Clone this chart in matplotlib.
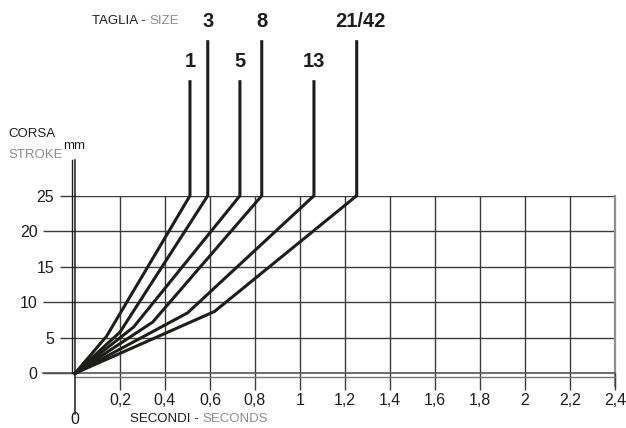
import matplotlib
matplotlib.use("Agg")
import matplotlib.pyplot as plt
from matplotlib.ticker import FixedLocator

# ---------------- data ----------------
sizes = ['1', '3', '5', '8', '13', '21/42']
t_kink = [0.14, 0.20, 0.26, 0.345, 0.50, 0.62]     # s
s_kink = [5.2, 5.8, 6.5, 7.2, 8.5, 8.7]            # mm
t_end = [0.511, 0.590, 0.733, 0.830, 1.062, 1.252]  # s
stroke_max = 25                                      # mm
x_ticks = [0.2, 0.4, 0.6, 0.8, 1.0, 1.2, 1.4, 1.6, 1.8, 2.0, 2.2, 2.4]
x_labels = ['0,2', '0,4', '0,6', '0,8', '1', '1,2', '1,4', '1,6', '1,8', '2', '2,2', '2,4']
y_major = [0, 10, 20]
y_minor = [5, 15, 25]

# ---------------- layout ----------------
W, H = 626, 428
fig = plt.figure(figsize=(W / 100, H / 100), dpi=100)
x0px, x1px, y0px, y1px = 75, 615, 373.3, 195.7
ax = fig.add_axes([x0px / W, 1 - y0px / H, (x1px - x0px) / W, (y0px - y1px) / H])
ax.set_xlim(0, 2.4)
ax.set_ylim(0, 25)
for s in ax.spines.values():
    s.set_visible(False)

sx = 2.4 / (x1px - x0px)   # data per px (x)
sy = 25 / (y0px - y1px)    # data per px (y)

ink = '#1d1d1b'
grid = '#3c3c3c'
gray = '#8c8c8c'
sans = ['Liberation Sans', 'DejaVu Sans']
small = 9.5

# grid lines
for xv in x_ticks[:-1]:
    ax.plot([xv, xv], [0, 25], color=grid, lw=1.0, zorder=1)
for yv in y_minor + y_major[1:]:
    ax.plot([0, 2.4], [yv, yv], color=grid, lw=1.0, zorder=1)
# right border (gray)
ax.plot([2.4, 2.4], [-13 * sy, 25], color='#909090', lw=1.6, zorder=1, clip_on=False)

# ticks
ax.xaxis.set_major_locator(FixedLocator(x_ticks))
ax.set_xticklabels(x_labels, fontsize=11.5, family=sans, color=ink)
ax.tick_params(axis='x', direction='out', length=12, width=1.0, color=grid, pad=2)
ax.yaxis.set_major_locator(FixedLocator(y_major))
ax.yaxis.set_minor_locator(FixedLocator(y_minor))
ax.set_yticklabels([str(v) for v in y_major], fontsize=11.5, family=sans, color=ink)
ax.set_yticklabels([str(v) for v in y_minor], minor=True, fontsize=11.5, family=sans, color=ink)
ax.tick_params(axis='y', which='major', direction='out', length=23, width=1.0, color=grid, pad=4)
ax.tick_params(axis='y', which='minor', direction='out', length=11, width=1.0, color=grid, pad=4)

# double axis lines
ax.plot([-32 * sx, 2.4], [0, 0], color='#555555', lw=1.2, clip_on=False, zorder=3)
ax.plot([0, 2.4], [-3.2 * sy, -3.2 * sy], color='#777777', lw=1.0, clip_on=False, zorder=3)
ax.plot([0, 0], [-41 * sy, (y0px - 160) * sy], color=ink, lw=1.1, clip_on=False, zorder=3)
ax.plot([-3 * sx, -3 * sx], [0, (y0px - 160) * sy], color=ink, lw=1.0, clip_on=False, zorder=3)

# curves with stems
stem_len = [114, 154, 114, 154, 114, 154]  # px above the 25 mm line
for i, name in enumerate(sizes):
    xs = [0, t_kink[i], t_end[i], t_end[i]]
    top = stroke_max + stem_len[i] * sy
    ys = [0, s_kink[i], stroke_max, top]
    ax.plot(xs, ys, color=ink, lw=2.2, solid_joinstyle='miter', clip_on=False, zorder=4)
    ax.text(t_end[i] + (4 * sx if name == '21/42' else 0), top + 20 * sy, name,
            ha='center', va='center', fontsize=14.5, fontweight='bold',
            family=sans, color=ink, clip_on=False)

# texts
renderer = fig.canvas.get_renderer()

def ftext(xp, yp, s, **kw):
    return fig.text(xp / W, 1 - yp / H, s, **kw)

def pair(xp, yp, s1, s2, size):
    t1 = ftext(xp, yp, s1 + ' -', ha='left', va='center', fontsize=size, family=sans, color=ink)
    bb = t1.get_window_extent(renderer)
    ftext(bb.x1 + 4, yp, s2, ha='left', va='center', fontsize=size, family=sans, color=gray)

pair(91.7, 21.5, 'TAGLIA', 'SIZE', small)
pair(130, 419, 'SECONDI', 'SECONDS', small)
ftext(8, 134, 'CORSA', ha='left', va='center', fontsize=small, family=sans, color=ink)
ftext(8, 155, 'STROKE', ha='left', va='center', fontsize=small, family=sans, color=gray)
ftext(63, 149, 'mm', ha='left', va='baseline', fontsize=small, family=sans, color=ink)
ftext(75, 419, '0', ha='center', va='center', fontsize=11.5, family=sans, color=ink)

fig.savefig('out.png', dpi=100)
